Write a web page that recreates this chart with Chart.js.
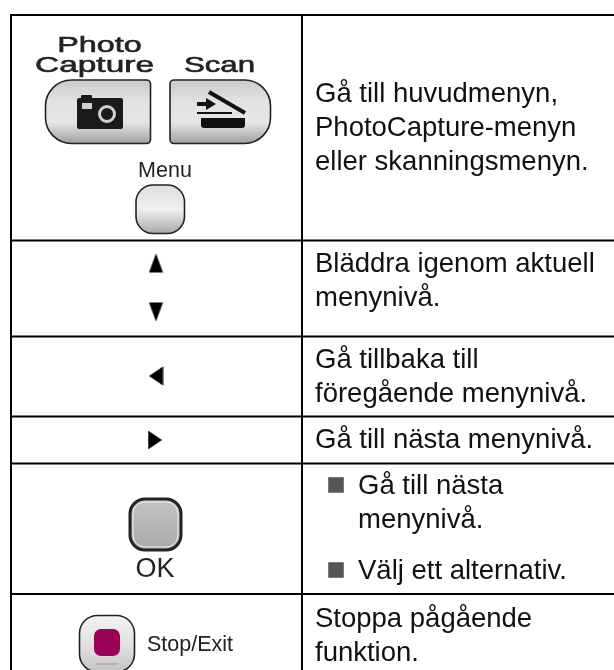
<!DOCTYPE html>
<html>
<head>
<meta charset="utf-8">
<style>
    html, body { margin: 0; padding: 0; background: #fff; }
    canvas { display: block; }
</style>
<script src="https://cdn.jsdelivr.net/npm/chart.js@4"></script>
</head>
<body>
<canvas id="myChart" width="614" height="670"></canvas>
<script>
// table rules in page units
const rowLines = [15, 240.5, 336.5, 416.5, 463.5, 594];
const colLines = [11, 302];
const tableLeft = 11;
const tableRight = 614;
const tableTop = 15;
const tableBottom = 670;

// arrow keys and list bullets
const arrowX = [156, 156, 156, 155];
const arrowY = [263, 312, 376, 440];
const arrowAngle = [0, 180, 270, 90];
const bulletX = [336, 336];
const bulletY = [485, 570];

// right column text
const cellText = ['Gå till huvudmenyn,', 'PhotoCapture-menyn', 'eller skanningsmenyn.',
    'Bläddra igenom aktuell', 'menynivå.', 'Gå tillbaka till', 'föregående menynivå.',
    'Gå till nästa menynivå.', 'Gå till nästa', 'menynivå.', 'Välj ett alternativ.',
    'Stoppa pågående', 'funktion.'];
const cellTextX = [315, 315, 315, 315, 315, 315, 315, 315, 358, 358, 358, 315, 315];
const cellTextY = [102, 136, 170, 272, 306, 368, 402, 448, 494, 528, 579, 627, 661];

// key captions: text, centre x, baseline, size, stretch
const keyText = ['Photo', 'Capture', 'Scan', 'Menu', 'OK', 'Stop/Exit'];
const keyTextX = [99.5, 94.5, 219.5, 165, 155, 190];
const keyTextY = [52, 72, 72, 177, 577, 651];
const keySize = [22, 22, 22, 21.5, 27, 21.5];
const keyStretch = [1.47, 1.52, 1.42, 1, 1, 1];

function arrowImage(w, h) {
    const c = document.createElement('canvas');
    c.width = w;
    c.height = h;
    const g = c.getContext('2d');
    g.fillStyle = '#000';
    g.beginPath();
    g.moveTo(w / 2, 0.5);
    g.lineTo(w - 0.5, h - 0.5);
    g.lineTo(0.5, h - 0.5);
    g.closePath();
    g.fill();
    return c;
}

function ruleDataset(points) {
    return {
        data: points,
        showLine: true,
        borderColor: '#000',
        borderWidth: 2,
        pointRadius: 0
    };
}

const upDown = arrowImage(15, 20);
const leftRight = arrowImage(20, 15);

const datasets = [];
rowLines.forEach(y => {
    datasets.push(ruleDataset([{ x: tableLeft - 1, y: y }, { x: tableRight, y: y }]));
});
colLines.forEach(x => {
    datasets.push(ruleDataset([{ x: x, y: tableTop }, { x: x, y: tableBottom }]));
});
datasets.push({
    data: arrowX.map((x, i) => ({ x: x, y: arrowY[i] })),
    pointStyle: [upDown, upDown, leftRight, leftRight],
    rotation: arrowAngle,
    pointRadius: 8
});
datasets.push({
    data: bulletX.map((x, i) => ({ x: x, y: bulletY[i] })),
    pointStyle: 'rect',
    pointRadius: 11,
    backgroundColor: '#555',
    borderWidth: 0
});

function verticalGradient(ctx, top, bottom, stops) {
    const g = ctx.createLinearGradient(0, top, 0, bottom);
    stops.forEach((s, i) => g.addColorStop(i / (stops.length - 1), s));
    return g;
}

function keyShape(ctx, sx, sy, x0, y0, x1, y1, radii, stops, line, lineWidth) {
    const left = sx.getPixelForValue(x0);
    const top = sy.getPixelForValue(y0);
    const w = sx.getPixelForValue(x1) - left;
    const h = sy.getPixelForValue(y1) - top;
    ctx.beginPath();
    ctx.roundRect(left, top, w, h, radii);
    ctx.fillStyle = verticalGradient(ctx, top, top + h, stops);
    ctx.fill();
    ctx.strokeStyle = line;
    ctx.lineWidth = lineWidth;
    ctx.stroke();
}

const drawKeys = {
    id: 'drawKeys',
    afterDatasetsDraw(chart) {
        const ctx = chart.ctx;
        const sx = chart.scales.x;
        const sy = chart.scales.y;
        const px = v => sx.getPixelForValue(v);
        const py = v => sy.getPixelForValue(v);
        const steel = ['#cbcbcb', '#e2e2e2', '#e6e6e6', '#a0a0a0'];

        ctx.save();
        keyShape(ctx, sx, sy, 45.5, 80, 150.5, 143.5, [26, 4, 4, 26], steel, '#222', 1.6);
        keyShape(ctx, sx, sy, 170, 80, 270.5, 143.5, [4, 26, 26, 4], steel, '#222', 1.6);
        keyShape(ctx, sx, sy, 136, 185, 184.5, 233.5, 17, ['#dddddd', '#f0f0f0', '#a9a9a9'], '#222', 1.6);
        keyShape(ctx, sx, sy, 130, 499, 181, 550, 15, ['#c4c4c4', '#a9a9a9'], '#222', 3);
        ctx.beginPath();
        ctx.roundRect(px(133), py(502), 45, 45, 12);
        ctx.strokeStyle = '#eee';
        ctx.lineWidth = 1;
        ctx.stroke();
        keyShape(ctx, sx, sy, 79.5, 615.5, 134.5, 672, 18, ['#f2f2f2', '#e2e2e2', '#c4c4c4'], '#222', 1.6);

        // stop key
        ctx.fillStyle = '#9c0058';
        ctx.beginPath();
        ctx.roundRect(px(94), py(629), 26, 27, 7);
        ctx.fill();
        ctx.fillStyle = '#b4b4b4';
        ctx.fillRect(px(96), py(663), 22, 2);

        // camera
        ctx.fillStyle = '#1a1a1a';
        ctx.beginPath();
        ctx.roundRect(px(77), py(98), 46, 31, 2);
        ctx.roundRect(px(81), py(95), 11, 5, 1);
        ctx.fill();
        ctx.fillStyle = '#cfcfcf';
        ctx.fillRect(px(82), py(103), 10, 6);
        ctx.strokeStyle = '#cfcfcf';
        ctx.lineWidth = 3;
        ctx.beginPath();
        ctx.arc(px(107), py(114), 7.5, 0, Math.PI * 2);
        ctx.stroke();

        // scanner
        ctx.strokeStyle = '#111';
        ctx.lineWidth = 4;
        ctx.beginPath();
        ctx.moveTo(px(209), py(92));
        ctx.lineTo(px(245), py(113));
        ctx.stroke();
        ctx.lineWidth = 2;
        ctx.beginPath();
        ctx.moveTo(px(197), py(113));
        ctx.lineTo(px(232), py(113));
        ctx.stroke();
        ctx.fillStyle = '#111';
        ctx.fillRect(px(197), py(102), 11, 4);
        ctx.beginPath();
        ctx.moveTo(px(206), py(98));
        ctx.lineTo(px(216), py(104));
        ctx.lineTo(px(206), py(110));
        ctx.closePath();
        ctx.fill();
        ctx.beginPath();
        ctx.roundRect(px(201), py(118), 44, 10, [0, 0, 3, 3]);
        ctx.fill();

        // captions, the stretched ones get a thin stroke so they keep their weight
        ctx.fillStyle = '#222';
        ctx.strokeStyle = '#222';
        ctx.lineWidth = 0.6;
        ctx.textAlign = 'center';
        ctx.textBaseline = 'alphabetic';
        keyText.forEach((t, i) => {
            ctx.save();
            ctx.translate(px(keyTextX[i]), py(keyTextY[i]));
            ctx.scale(keyStretch[i], 1);
            ctx.font = keySize[i] + 'px "Liberation Sans"';
            ctx.fillText(t, 0, 0);
            if (keyStretch[i] > 1) {
                ctx.strokeText(t, 0, 0);
            }
            ctx.restore();
        });

        // right column
        ctx.fillStyle = '#111';
        ctx.textAlign = 'left';
        ctx.font = '27.5px "Liberation Sans"';
        cellText.forEach((t, i) => {
            ctx.fillText(t, px(cellTextX[i]), py(cellTextY[i]));
        });
        ctx.restore();
    }
};

const myChart = new Chart(document.getElementById('myChart').getContext('2d'), {
    type: 'scatter',
    data: { datasets: datasets },
    options: {
        responsive: false,
        animation: false,
        layout: { padding: 0, autoPadding: false },
        plugins: {
            legend: { display: false },
            tooltip: { enabled: false }
        },
        scales: {
            x: { type: 'linear', min: 0, max: 614, display: false },
            y: { type: 'linear', min: 0, max: 670, reverse: true, display: false }
        }
    },
    plugins: [drawKeys]
});
</script>
</body>
</html>
